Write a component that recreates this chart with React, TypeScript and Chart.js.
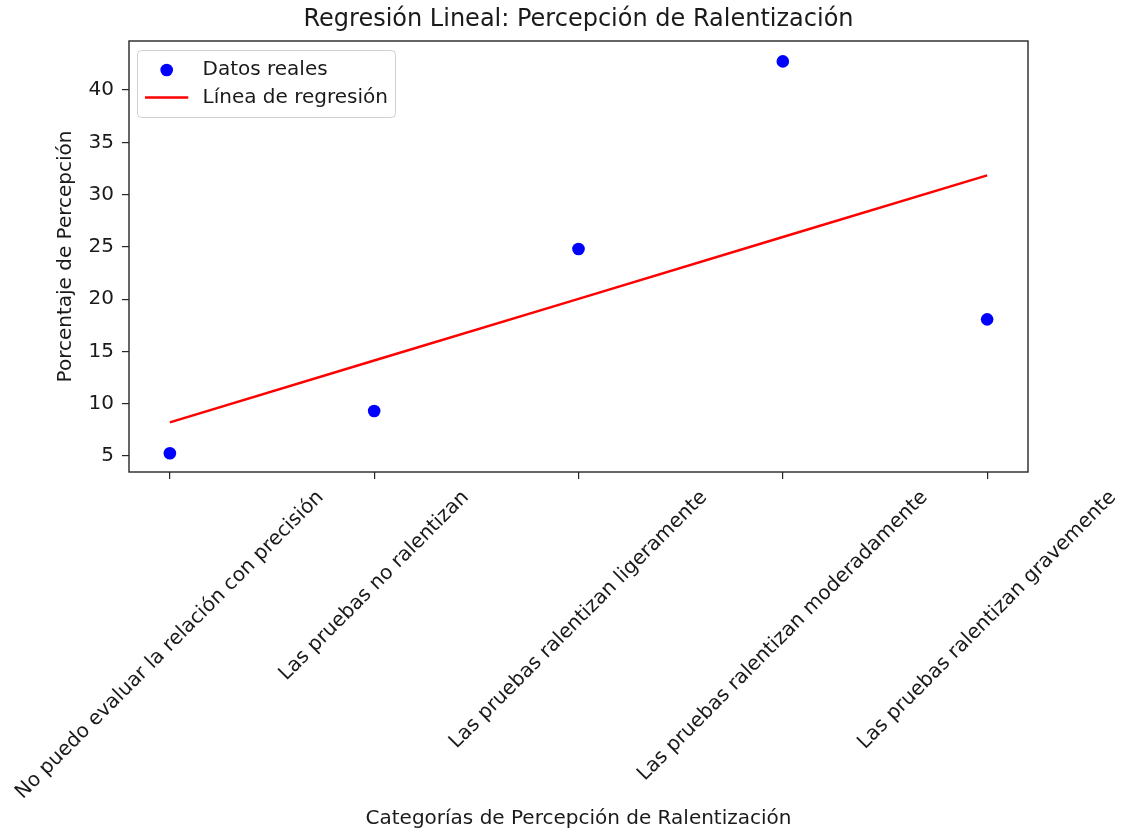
import React, { useEffect, useRef } from 'react';
import { Chart, registerables } from 'chart.js';

Chart.register(...registerables);

const categories = [
  'No puedo evaluar la relación con precisión',
  'Las pruebas no ralentizan',
  'Las pruebas ralentizan ligeramente',
  'Las pruebas ralentizan moderadamente',
  'Las pruebas ralentizan gravemente',
];
const actualValues = [5.26, 9.3, 24.8, 42.74, 18.07];
const regressionValues = [8.22, 14.13, 20.03, 25.94, 31.84];
const yTicks = [5, 10, 15, 20, 25, 30, 35, 40];

const chartTitle = 'Regresión Lineal: Percepción de Ralentización';
const xTitle = 'Categorías de Percepción de Ralentización';
const yTitle = 'Porcentaje de Percepción';
const seriesNames = ['Datos reales', 'Línea de regresión'];

const FONT = "'DejaVu Sans', 'Liberation Sans', sans-serif";
const TEXT = '#1a1a1a';
const AX = '#262626';
const FS = 20;

const framePlugin = {
  id: 'mplFrame',
  afterDatasetsDraw(chart: any) {
    const { ctx, chartArea: ca } = chart;
    ctx.save();
    ctx.strokeStyle = AX;
    ctx.lineWidth = 1.4;
    ctx.strokeRect(ca.left, ca.top, ca.right - ca.left, ca.bottom - ca.top);
    ctx.restore();
  },
};

const xLabelPlugin = {
  id: 'mplXLabels',
  afterDraw(chart: any) {
    const { ctx, chartArea: ca } = chart;
    const xs = chart.scales.x;
    ctx.save();
    ctx.font = `${FS}px ${FONT}`;
    ctx.fillStyle = TEXT;
    ctx.textAlign = 'center';
    ctx.textBaseline = 'middle';
    categories.forEach((label, i) => {
      const x = xs.getPixelForValue(i);
      const w = ctx.measureText(label).width;
      const h = FS * 1.17;
      const d = (w + h) / Math.SQRT2;
      const cy = ca.bottom + 14 + d / 2;
      ctx.save();
      ctx.translate(x, cy);
      ctx.rotate(-Math.PI / 4);
      ctx.fillText(label, 0, 0);
      ctx.restore();
    });
    ctx.restore();
  },
};

const legendPlugin = {
  id: 'mplLegend',
  afterDraw(chart: any) {
    const { ctx, chartArea: ca } = chart;
    const L = ca.left;
    const T = ca.top;
    ctx.save();
    const bx = L + 8.5, by = T + 9.5, bw = 258, bh = 67, r = 4;
    ctx.beginPath();
    ctx.moveTo(bx + r, by);
    ctx.lineTo(bx + bw - r, by);
    ctx.quadraticCurveTo(bx + bw, by, bx + bw, by + r);
    ctx.lineTo(bx + bw, by + bh - r);
    ctx.quadraticCurveTo(bx + bw, by + bh, bx + bw - r, by + bh);
    ctx.lineTo(bx + r, by + bh);
    ctx.quadraticCurveTo(bx, by + bh, bx, by + bh - r);
    ctx.lineTo(bx, by + r);
    ctx.quadraticCurveTo(bx, by, bx + r, by);
    ctx.closePath();
    ctx.fillStyle = 'rgba(255,255,255,0.8)';
    ctx.fill();
    ctx.strokeStyle = '#d0d0d0';
    ctx.lineWidth = 1;
    ctx.stroke();

    ctx.beginPath();
    ctx.arc(L + 37.7, T + 29, 6.3, 0, Math.PI * 2);
    ctx.fillStyle = '#0000ff';
    ctx.fill();

    ctx.beginPath();
    ctx.moveTo(L + 16, T + 56.5);
    ctx.lineTo(L + 59.3, T + 56.5);
    ctx.strokeStyle = '#ff0000';
    ctx.lineWidth = 2.5;
    ctx.stroke();

    ctx.font = `${FS}px ${FONT}`;
    ctx.fillStyle = TEXT;
    ctx.textAlign = 'left';
    ctx.textBaseline = 'alphabetic';
    ctx.fillText(seriesNames[0], L + 73.5, T + 34);
    ctx.fillText(seriesNames[1], L + 73.5, T + 62);
    ctx.restore();
  },
};

export default function App() {
  const ref = useRef<HTMLCanvasElement | null>(null);

  useEffect(() => {
    document.body.style.margin = '0';
    const canvas = ref.current;
    if (!canvas) return;
    Chart.defaults.font.family = FONT;
    const chart = new Chart(canvas, {
      type: 'scatter',
      data: {
        datasets: [
          {
            type: 'scatter',
            label: seriesNames[0],
            data: actualValues.map((v, i) => ({ x: i, y: v })),
            backgroundColor: '#0000ff',
            borderColor: '#0000ff',
            pointRadius: 6.3,
            pointHoverRadius: 6.3,
            borderWidth: 0,
            order: 2,
          },
          {
            type: 'line',
            label: seriesNames[1],
            data: regressionValues.map((v, i) => ({ x: i, y: v })),
            borderColor: '#ff0000',
            backgroundColor: '#ff0000',
            borderWidth: 2.5,
            pointRadius: 0,
            fill: false,
            tension: 0,
            order: 1,
          } as any,
        ],
      },
      options: {
        responsive: false,
        animation: false,
        devicePixelRatio: 1,
        layout: { padding: { left: 0, right: 96, top: 0, bottom: 0 } },
        plugins: {
          legend: { display: false },
          tooltip: { enabled: false },
          title: {
            display: true,
            fullSize: false,
            text: chartTitle,
            color: TEXT,
            font: { family: FONT, size: 24, weight: 'normal' },
            padding: { top: 5.6, bottom: 6.6 },
          },
        },
        scales: {
          x: {
            type: 'linear',
            min: -0.2,
            max: 4.2,
            afterBuildTicks: (s: any) => {
              s.ticks = categories.map((_, i) => ({ value: i }));
            },
            afterFit: (s: any) => {
              s.height = 360;
            },
            ticks: { display: false },
            grid: {
              display: true,
              drawOnChartArea: false,
              drawTicks: true,
              tickLength: 7,
              color: AX,
              lineWidth: 1.2,
            },
            border: { display: false },
            title: {
              display: true,
              text: xTitle,
              color: TEXT,
              font: { family: FONT, size: FS },
              padding: { top: 0, bottom: 1 },
            },
          },
          y: {
            type: 'linear',
            min: 3.47,
            max: 44.69,
            afterBuildTicks: (s: any) => {
              s.ticks = yTicks.map((v) => ({ value: v }));
            },
            afterFit: (s: any) => {
              s.width = 129;
            },
            ticks: {
              color: TEXT,
              font: { family: FONT, size: FS },
              padding: 8,
              callback: (v: any) => String(v),
            },
            grid: {
              display: true,
              drawOnChartArea: false,
              drawTicks: true,
              tickLength: 7,
              color: AX,
              lineWidth: 1.2,
            },
            border: { display: false },
            title: {
              display: true,
              text: yTitle,
              color: TEXT,
              font: { family: FONT, size: FS },
              padding: { top: 54, bottom: 0 },
            },
          },
        },
      } as any,
      plugins: [framePlugin, xLabelPlugin, legendPlugin],
    });
    return () => chart.destroy();
  }, []);

  return (
    <div style={{ position: 'absolute', left: 0, top: 0, width: 1124, height: 832, background: '#fff' }}>
      <canvas ref={ref} width={1124} height={832} style={{ display: 'block', width: 1124, height: 832 }} />
    </div>
  );
}
